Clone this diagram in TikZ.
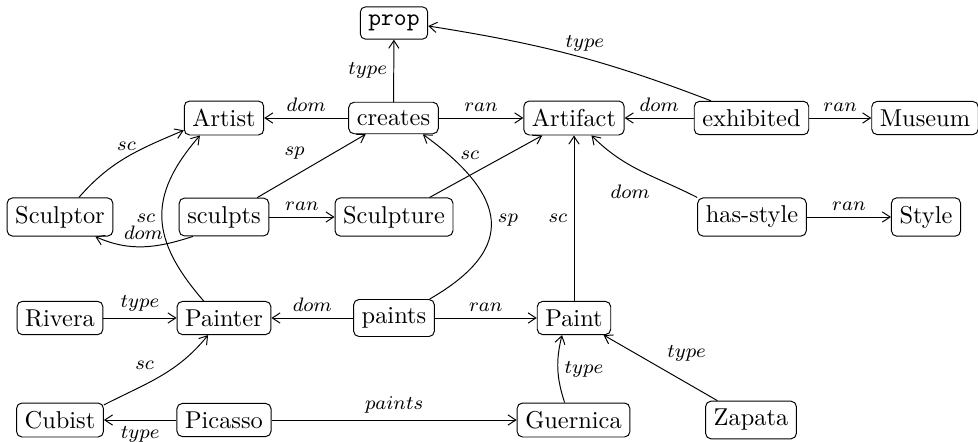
\documentclass[tikz,border=0pt]{standalone}
\usetikzlibrary{arrows.meta}
\begin{document}
\begin{tikzpicture}[x=0.41pt,y=0.41pt,
  nd/.style={draw, rounded corners=2.2pt, inner sep=3.33pt},
  lbl/.style={font=\footnotesize, inner sep=2.6pt},
  ar/.style={-{Straight Barb[length=3.2pt,width=4.2pt]}}]
\useasboundingbox (0,0) rectangle (978,441);
% nodes
\node[nd] (prop) at (394,418) {\texttt{prop}};
\node[nd] (artist) at (224,323) {Artist};
\node[nd] (creates) at (393.5,323) {creates};
\node[nd] (artifact) at (574,323) {Artifact};
\node[nd] (exhibited) at (751.5,323) {exhibited};
\node[nd] (museum) at (925,323) {Museum};
\node[nd] (sculptor) at (60,224) {Sculptor};
\node[nd] (sculpts) at (224,224) {sculpts};
\node[nd] (sculpture) at (394,224) {Sculpture};
\node[nd] (hasstyle) at (752,224) {has-style};
\node[nd] (style) at (926,224) {Style};
\node[nd] (rivera) at (60,123) {Rivera};
\node[nd] (painter) at (224,123) {Painter};
\node[nd] (paints) at (394,123) {paints};
\node[nd] (paint) at (574,123) {Paint};
\node[nd] (cubist) at (60,21) {Cubist};
\node[nd] (picasso) at (224,21) {Picasso};
\node[nd] (guernica) at (573.5,21) {Guernica};
\node[nd] (zapata) at (751,21) {Zapata};
% edges
\draw[ar] (creates) -- node[lbl,left]{$type$} (prop);
\draw[ar] (creates) -- node[lbl,above]{$dom$} (artist);
\draw[ar] (creates) -- node[lbl,above]{$ran$} (artifact);
\draw[ar] (exhibited) -- node[lbl,above]{$dom$} (artifact);
\draw[ar] (exhibited) -- node[lbl,above]{$ran$} (museum);
\draw[ar] (exhibited.157) to[out=159,in=-9] node[lbl,above,pos=0.45]{$type$} (prop.-5);
\draw[ar] (hasstyle.north west) to[out=153,in=-45] node[lbl,below left,pos=0.35]{$dom$} (artifact.-45);
\draw[ar] (hasstyle) -- node[lbl,above]{$ran$} (style);
\draw[ar] (sculptor.46) to[out=49,in=-157] node[lbl,above]{$sc$} (artist.-163);
\draw[ar] (sculpts.-148) to[out=-162,in=-24] node[lbl,above]{$dom$} (sculptor.-29);
\draw[ar] (sculpts) -- node[lbl,above left]{$sp$} (creates);
\draw[ar] (sculpts) -- node[lbl,above]{$ran$} (sculpture);
\draw[ar] (sculpture) -- node[lbl,above left]{$sc$} (artifact);
\draw[ar] (painter.140) to[out=131,in=-131,looseness=1.25] node[lbl,left]{$sc$} (artist.-144);
\draw[ar] (paints.28) to[out=30,in=-36,looseness=1.6] node[lbl,right]{$sp$} (creates.-29);
\draw[ar] (paints) -- node[lbl,above]{$dom$} (painter);
\draw[ar] (paints) -- node[lbl,above]{$ran$} (paint);
\draw[ar] (paint) -- node[lbl,left]{$sc$} (artifact);
\draw[ar] (rivera) -- node[lbl,above]{$type$} (painter);
\draw[ar] (cubist.19) to[out=27,in=-129] node[lbl,above left]{$sc$} (painter.-133);
\draw[ar] (picasso) -- node[lbl,below]{$type$} (cubist);
\draw[ar] (picasso) -- node[lbl,above]{$paints$} (guernica);
\draw[ar] (guernica.117) to[out=108,in=-104] node[lbl,right]{$type$} (paint.-125);
\draw[ar] (zapata) -- node[lbl,above right]{$type$} (paint);
\end{tikzpicture}
\end{document}
